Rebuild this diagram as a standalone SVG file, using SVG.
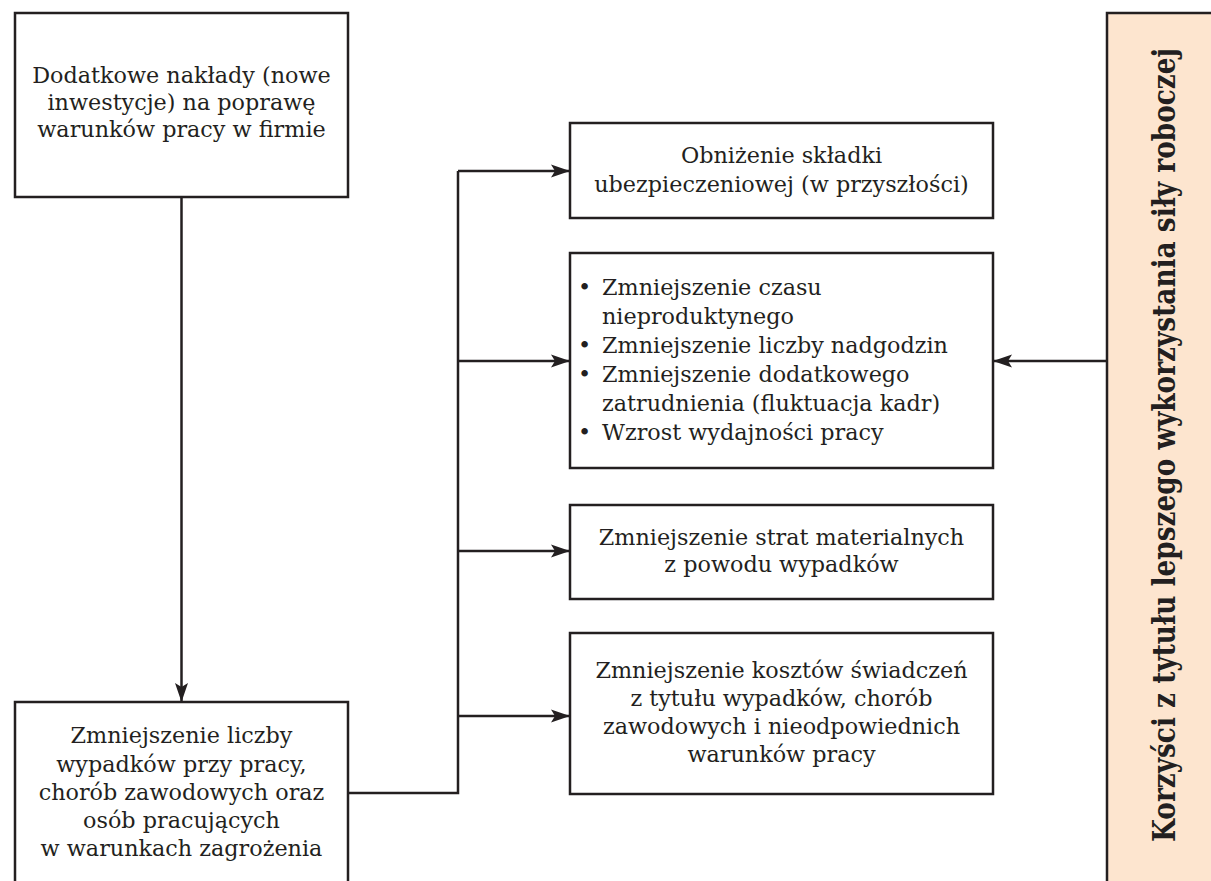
<svg xmlns="http://www.w3.org/2000/svg" width="1211" height="881" viewBox="0 0 1211 881">
<style>
.box{fill:#fff;stroke:#231f20;stroke-width:2.5}
.t{font-family:"DejaVu Serif","Liberation Serif",serif;font-size:22.3px;fill:#231f20}
.c{text-anchor:middle}
.ln{fill:none;stroke:#231f20;stroke-width:2.5}
.side{font-family:"DejaVu Serif","Liberation Serif",serif;font-weight:bold;font-size:22.5px;fill:#231f20;text-anchor:middle}
</style>
<defs>
<marker id="ah" viewBox="0 0 19 14" refX="18" refY="7" markerWidth="19" markerHeight="14" markerUnits="userSpaceOnUse" orient="auto">
<path d="M0,0.5 L19,7 L0,13.5 L4,7 Z" fill="#231f20"/>
</marker>
</defs>
<rect width="1211" height="881" fill="#fff"/>
<g id="connectors">
<path class="ln" d="M181.5,197 V701" marker-end="url(#ah)"/>
<path class="ln" d="M348,793 H458 V171"/>
<path class="ln" d="M458,171 H569" marker-end="url(#ah)"/>
<path class="ln" d="M458,361 H569" marker-end="url(#ah)"/>
<path class="ln" d="M458,551 H569" marker-end="url(#ah)"/>
<path class="ln" d="M458,716 H569" marker-end="url(#ah)"/>
<path class="ln" d="M1107,361 H994" marker-end="url(#ah)"/>
</g>
<g id="node-inwestycje">
<rect class="box" x="15" y="13" width="333" height="184"/>
<text class="t c" x="181.5" y="83">Dodatkowe nakłady (nowe</text>
<text class="t c" x="181.5" y="110">inwestycje) na poprawę</text>
<text class="t c" x="181.5" y="137">warunków pracy w firmie</text>
</g>
<g id="node-zmniejszenie">
<path class="ln" d="M15,881 V702 H348 V881"/>
<text class="t c" x="181.5" y="743">Zmniejszenie liczby</text>
<text class="t c" x="181.5" y="771.5">wypadków przy pracy,</text>
<text class="t c" x="181.5" y="800">chorób zawodowych oraz</text>
<text class="t c" x="181.5" y="828">osób pracujących</text>
<text class="t c" x="181.5" y="856">w warunkach zagrożenia</text>
</g>
<g id="node-skladka">
<rect class="box" x="570" y="123" width="423" height="95"/>
<text class="t c" x="781.5" y="163">Obniżenie składki</text>
<text class="t c" x="781.5" y="191.5">ubezpieczeniowej (w przyszłości)</text>
</g>
<g id="node-czas">
<rect class="box" x="570" y="253" width="423" height="215"/>
<text class="t" x="578" y="295">•</text>
<text class="t" x="602" y="295">Zmniejszenie czasu</text>
<text class="t" x="602" y="324">nieproduktynego</text>
<text class="t" x="578" y="353">•</text>
<text class="t" x="602" y="353">Zmniejszenie liczby nadgodzin</text>
<text class="t" x="578" y="382">•</text>
<text class="t" x="602" y="382">Zmniejszenie dodatkowego</text>
<text class="t" x="602" y="411">zatrudnienia (fluktuacja kadr)</text>
<text class="t" x="578" y="440">•</text>
<text class="t" x="602" y="440">Wzrost wydajności pracy</text>
</g>
<g id="node-straty">
<rect class="box" x="570" y="505" width="423" height="94"/>
<text class="t c" x="781.5" y="545">Zmniejszenie strat materialnych</text>
<text class="t c" x="781.5" y="572">z powodu wypadków</text>
</g>
<g id="node-koszty">
<rect class="box" x="570" y="633" width="423" height="161"/>
<text class="t c" x="781.5" y="678">Zmniejszenie kosztów świadczeń</text>
<text class="t c" x="781.5" y="706">z tytułu wypadków, chorób</text>
<text class="t c" x="781.5" y="734">zawodowych i nieodpowiednich</text>
<text class="t c" x="781.5" y="762">warunków pracy</text>
</g>
<g id="node-korzysci">
<rect x="1107" y="13" width="104" height="868" fill="#fde5cf"/>
<path class="ln" d="M1107,881 V13 H1211"/>
<text class="side" transform="translate(1175,445) rotate(-90) scale(1,1.38)" textLength="794" lengthAdjust="spacingAndGlyphs">Korzyści z tytułu lepszego wykorzystania siły roboczej</text>
</g>
</svg>
